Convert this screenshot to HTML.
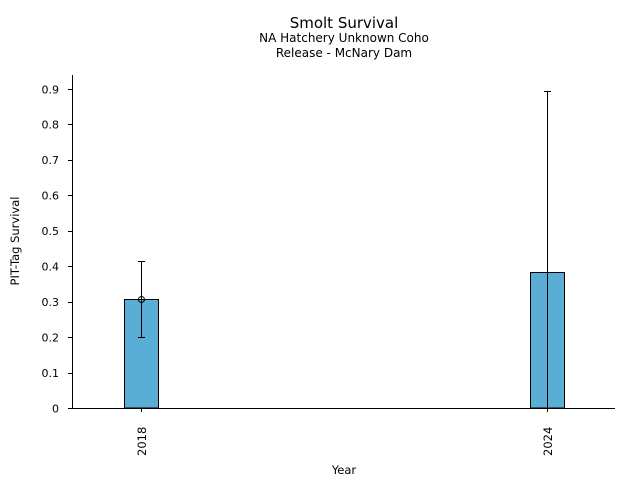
<!DOCTYPE html>
<html><head><style>body{margin:0;background:#fff}svg{display:block}</style></head><body>
<svg width="640" height="480" xmlns="http://www.w3.org/2000/svg" font-family="DejaVu Sans, sans-serif" fill="#000">
<text x="344" y="28" font-size="15" text-anchor="middle">Smolt Survival</text>
<text x="344" y="42" font-size="12" text-anchor="middle">NA Hatchery Unknown Coho</text>
<text x="344" y="57" font-size="12" text-anchor="middle">Release - McNary Dam</text>
<rect x="124.5" y="299.5" width="34" height="108.5" fill="#5aaed6" stroke="#000" stroke-width="1"/>
<rect x="530.5" y="272.5" width="34" height="135.5" fill="#5aaed6" stroke="#000" stroke-width="1"/>
<g stroke="#000" stroke-width="1" fill="none">
<line x1="72.5" y1="75" x2="72.5" y2="408"/>
<line x1="72" y1="408.5" x2="615" y2="408.5"/>
<line x1="141.5" y1="261.5" x2="141.5" y2="337.5"/>
<line x1="138" y1="261.5" x2="145" y2="261.5"/>
<line x1="138" y1="337.5" x2="145" y2="337.5"/>
<circle cx="141.5" cy="299.5" r="3"/>
<line x1="547.5" y1="91.5" x2="547.5" y2="408"/>
<line x1="544" y1="91.5" x2="551" y2="91.5"/>
<line x1="141.5" y1="408" x2="141.5" y2="412"/>
<line x1="547.5" y1="408" x2="547.5" y2="412"/>
<line x1="68" y1="408.5" x2="72" y2="408.5"/>
<line x1="68" y1="373.5" x2="72" y2="373.5"/>
<line x1="68" y1="337.5" x2="72" y2="337.5"/>
<line x1="68" y1="302.5" x2="72" y2="302.5"/>
<line x1="68" y1="266.5" x2="72" y2="266.5"/>
<line x1="68" y1="231.5" x2="72" y2="231.5"/>
<line x1="68" y1="195.5" x2="72" y2="195.5"/>
<line x1="68" y1="160.5" x2="72" y2="160.5"/>
<line x1="68" y1="124.5" x2="72" y2="124.5"/>
<line x1="68" y1="89.5" x2="72" y2="89.5"/>
</g>
<g font-size="11" text-anchor="end">
<text x="59" y="412.5">0</text>
<text x="59" y="377">0.1</text>
<text x="59" y="341.5">0.2</text>
<text x="59" y="306">0.3</text>
<text x="59" y="270.5">0.4</text>
<text x="59" y="235">0.5</text>
<text x="59" y="199.5">0.6</text>
<text x="59" y="164">0.7</text>
<text x="59" y="128.5">0.8</text>
<text x="59" y="93.5">0.9</text>
</g>
<text font-size="11.5" transform="translate(146,456) rotate(-90)">2018</text>
<text font-size="11.5" transform="translate(552,456) rotate(-90)">2024</text>
<text x="344" y="474" font-size="11.5" text-anchor="middle">Year</text>
<text font-size="11.5" text-anchor="middle" transform="translate(19,241) rotate(-90)">PIT-Tag Survival</text>
</svg>
</body></html>
